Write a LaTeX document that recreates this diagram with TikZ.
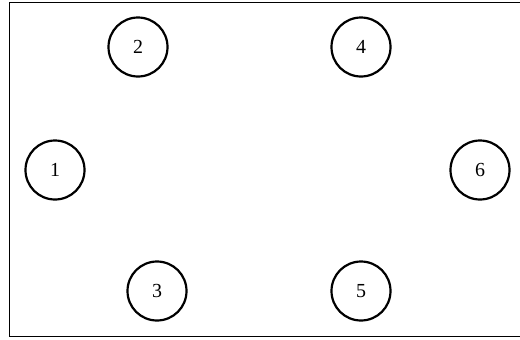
\documentclass[tikz,border=0pt]{standalone}
\usepackage{fontspec}
\setmainfont{Liberation Serif}
\begin{document}
\begin{tikzpicture}[x=1bp,y=-1bp,
  vtx/.style={circle,draw,line width=2.2bp,minimum size=59bp,inner sep=0pt,font=\fontsize{20}{20}\selectfont}]
\useasboundingbox (0,0) rectangle (520,339);
\draw[line width=1.5bp] (521,2.5) -- (9.5,2.5) -- (9.5,336.5) -- (521,336.5);
\node[vtx] (n1) at (55,170) {1};
\node[vtx] (n2) at (138,47) {2};
\node[vtx] (n3) at (157,291) {3};
\node[vtx] (n4) at (361,47) {4};
\node[vtx] (n5) at (361,291) {5};
\node[vtx] (n6) at (480,170) {6};
\end{tikzpicture}
\end{document}
